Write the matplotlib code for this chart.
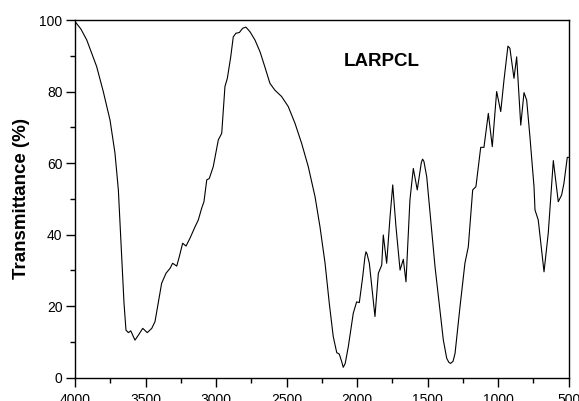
import matplotlib.pyplot as plt
from matplotlib.ticker import MultipleLocator

plt.rcParams['font.family'] = ['Liberation Sans', 'DejaVu Sans']

# wavenumber (cm-1) and transmittance (%)
wavenumber = [4000, 3960, 3918, 3848, 3801, 3753, 3718, 3694, 3682, 3670, 3654,
              3640, 3623, 3606, 3576, 3552, 3521, 3489, 3457, 3434, 3411,
              3387, 3356, 3327, 3309, 3280, 3262, 3238, 3214, 3186, 3150,
              3127, 3103, 3087, 3067, 3049, 3021, 2985, 2961, 2938, 2921,
              2897, 2879, 2860, 2836, 2812, 2789, 2760, 2725, 2689, 2655,
              2619, 2584, 2536, 2489, 2441, 2394, 2347, 2299, 2264, 2228,
              2198, 2170, 2145, 2127, 2110, 2099, 2085, 2063, 2028, 2004,
              1985, 1961, 1945, 1938, 1930, 1914, 1874, 1850, 1826, 1815,
              1791, 1767, 1748, 1725, 1696, 1673, 1654, 1626, 1602, 1574,
              1545, 1536, 1527, 1507, 1448, 1389, 1365, 1350, 1337, 1320,
              1306, 1271, 1236, 1212, 1181, 1158, 1124, 1101, 1070, 1042,
              1011, 982, 959, 931, 917, 888, 869, 840, 817, 798, 775, 746,
              739, 716, 675, 645, 609, 574, 550, 534, 510, 500]
transmittance = [99.5, 97.5, 94.4, 87.0, 80.0, 72.0, 62.8, 52.5, 43.2, 33.8, 20.9,
                 13.3, 12.6, 13.1, 10.5, 11.9, 13.8, 12.6, 13.8, 15.7, 20.9,
                 26.4, 29.2, 30.6, 32.0, 31.2, 33.8, 37.6, 36.8, 39.0, 42.2,
                 44.1, 47.4, 49.2, 55.3, 55.7, 59.0, 66.5, 68.3, 81.4, 83.7,
                 89.7, 95.3, 96.3, 96.5, 97.7, 98.0, 96.7, 94.4, 91.1, 86.9,
                 82.3, 80.4, 78.6, 75.8, 71.1, 65.5, 59.0, 50.6, 42.2, 32.0,
                 20.8, 11.5, 7.0, 6.6, 4.5, 2.9, 4.0, 8.7, 18.0, 21.2,
                 21.0, 28.2, 33.8, 35.2, 34.6, 32.0, 17.1, 29.2, 31.5, 39.9,
                 32.0, 45.0, 53.9, 42.2, 30.1, 33.1, 26.8, 49.7, 58.5, 52.5,
                 60.2, 61.1, 60.5, 56.2, 31.0, 10.5, 5.4, 4.3, 4.0, 4.6,
                 6.8, 19.8, 32.0, 36.6, 52.5, 53.4, 64.4, 64.4, 73.9, 64.6,
                 80.0, 74.4, 83.2, 92.7, 92.1, 83.7, 89.7, 70.6, 79.7, 77.6,
                 67.4, 53.4, 46.9, 44.1, 29.6, 40.4, 60.7, 49.2, 51.1, 54.3,
                 61.6, 61.6]

fig = plt.figure(figsize=(5.79, 4.01), dpi=100)
ax = fig.add_axes([0.1299, 0.0581, 0.8523, 0.892])
ax.plot(wavenumber, transmittance, color='black', lw=0.8)

ax.set_xlim(4000, 500)
ax.set_ylim(0, 100)
ax.xaxis.set_major_locator(MultipleLocator(500))
ax.xaxis.set_minor_locator(MultipleLocator(250))
ax.yaxis.set_major_locator(MultipleLocator(20))
ax.yaxis.set_minor_locator(MultipleLocator(10))
ax.tick_params(which='both', direction='out', top=False, right=False,
               width=1.0, labelsize=10, pad=3)
ax.tick_params(axis='x', pad=5)
ax.tick_params(which='major', length=6.2)
ax.tick_params(which='minor', length=3.8)
for s in ax.spines.values():
    s.set_linewidth(1.0)

ax.set_ylabel("Transmittance (%)", fontsize=13.5, fontweight='bold', labelpad=7)
ax.text(1829, 88.3, "LARPCL", fontsize=13.5, fontweight='bold',
        ha='center', va='center')

fig.savefig("out.png", dpi=100)
